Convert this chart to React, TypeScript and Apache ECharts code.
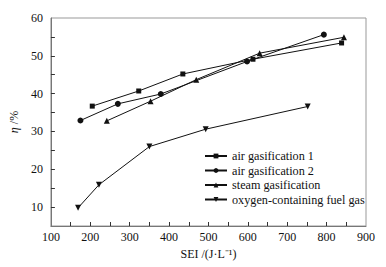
import React, { useEffect, useRef } from "react";
import * as echarts from "echarts";

const seriesNames = [
  "air gasification 1",
  "air gasification 2",
  "steam gasification",
  "oxygen-containing fuel gas",
];
const air1X = [205, 323, 435, 613, 838];
const air1Y = [36.7, 40.7, 45.2, 49.1, 53.4];
const air2X = [175, 270, 379, 598, 793];
const air2Y = [32.9, 37.3, 39.9, 48.5, 55.6];
const steamX = [242, 353, 469, 630, 844];
const steamY = [32.8, 38.0, 43.7, 50.7, 54.9];
const oxyX = [169, 222, 350, 493, 752];
const oxyY = [9.8, 15.9, 26.0, 30.6, 36.6];
const xTickLabels = [100, 200, 300, 400, 500, 600, 700, 800, 900];
const xTicks = [150, 200, 250, 300, 350, 400, 450, 500, 550, 600, 650, 700, 750, 800, 850];
const yTickLabels = [10, 20, 30, 40, 50, 60];
const yTicks = [10, 15, 20, 25, 30, 35, 40, 45, 50, 55];

const FONT = "Liberation Serif";
const downTri = "path://M0,0 L10,0 L5,9 Z";
const symbols = ["rect", "circle", "triangle", downTri];
const sizes = [5, 6, 6, 6];

export default function App() {
  const ref = useRef<HTMLDivElement>(null);
  useEffect(() => {
    const chart = echarts.init(ref.current!, null, { renderer: "svg" });
    const xs = [air1X, air2X, steamX, oxyX];
    const ys = [air1Y, air2Y, steamY, oxyY];
    chart.setOption({
      animation: false,
      backgroundColor: "#fff",
      textStyle: { fontFamily: FONT },
      grid: {
        left: 49.5,
        right: 20,
        top: 18,
        bottom: 41,
        show: true,
        borderColor: "#999",
        borderWidth: 1,
      },
      legend: {
        orient: "vertical",
        left: 199,
        top: 145,
        itemWidth: 22,
        itemHeight: 6,
        itemGap: 2.5,
        textStyle: { fontFamily: FONT, fontSize: 12.2, color: "#111" },
        data: seriesNames,
      },
      xAxis: {
        type: "value",
        min: 100,
        max: 900,
        name: "SEI /(J·L⁻¹)",
        nameLocation: "middle",
        nameGap: 22,
        nameTextStyle: { fontFamily: FONT, fontSize: 12, color: "#111" },
        axisLine: { show: true, lineStyle: { color: "#777", width: 1 } },
        axisTick: { show: true, inside: true, length: 4, customValues: xTicks, lineStyle: { color: "#333" } },
        splitLine: { show: false },
        axisLabel: {
          fontFamily: FONT,
          fontSize: 12,
          color: "#111",
          margin: 5,
          customValues: xTickLabels,
        },
      },
      yAxis: {
        type: "value",
        min: 5,
        max: 60,
        name: "{i|η} /%",
        nameLocation: "middle",
        nameRotate: 90,
        nameGap: 28,
        nameTextStyle: {
          fontFamily: FONT,
          fontSize: 12,
          color: "#111",
          rich: { i: { fontStyle: "italic", fontFamily: FONT, fontSize: 12, color: "#111" } },
        },
        axisLine: { show: true, lineStyle: { color: "#777", width: 1 } },
        axisTick: { show: true, inside: true, length: 4, customValues: yTicks, lineStyle: { color: "#333" } },
        splitLine: { show: false },
        axisLabel: {
          fontFamily: FONT,
          fontSize: 12,
          color: "#111",
          margin: 8,
          customValues: yTickLabels,
        },
      },
      series: seriesNames.map((name, i) => ({
        name,
        type: "line",
        data: xs[i].map((x, j) => [x, ys[i][j]]),
        symbol: symbols[i],
        symbolSize: sizes[i],
        showAllSymbol: true,
        lineStyle: { color: "#111", width: 1 },
        itemStyle: { color: "#111", borderWidth: 0 },
      })),
    });
    return () => chart.dispose();
  }, []);
  return (
    <div
      ref={ref}
      style={{ position: "fixed", left: 0, top: 0, width: 386, height: 267 }}
    />
  );
}
